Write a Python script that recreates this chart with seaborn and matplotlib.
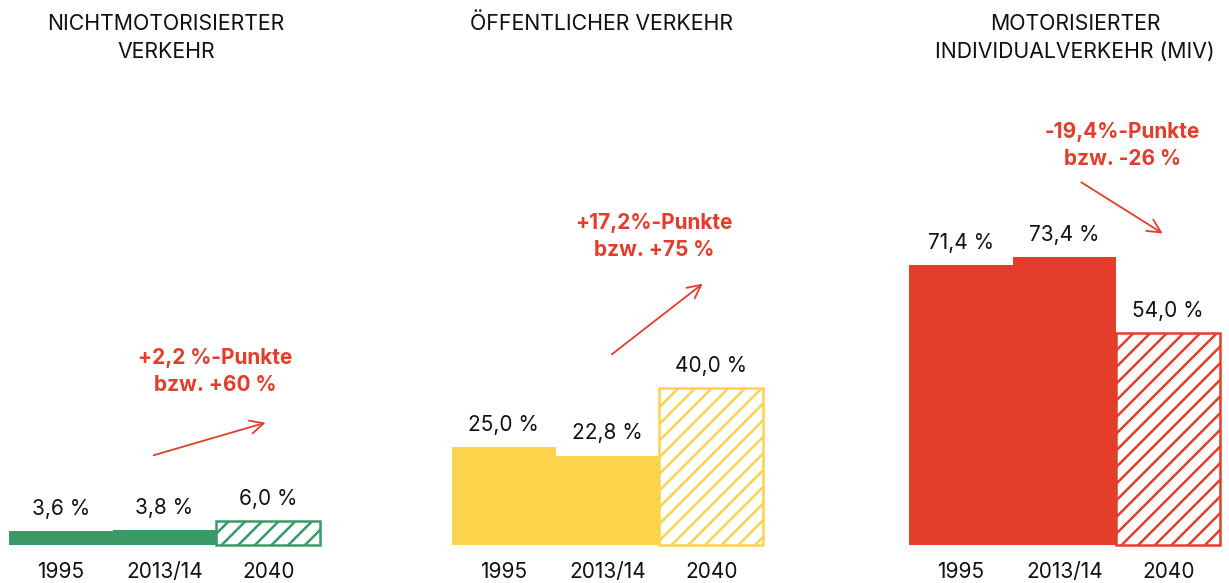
import numpy as np
import pandas as pd
import seaborn as sns
import matplotlib.pyplot as plt

# Data
years = ["1995", "2013/14", "2040"]
titles = ["NICHTMOTORISIERTER\nVERKEHR", "ÖFFENTLICHER VERKEHR", "MOTORISIERTER\nINDIVIDUALVERKEHR (MIV)"]
nmv_values = [3.6, 3.8, 6.0]
oev_values = [25.0, 22.8, 40.0]
miv_values = [71.4, 73.4, 54.0]
changes = ["+2,2 %-Punkte\nbzw. +60 %", "+17,2%-Punkte\nbzw. +75 %", "-19,4%-Punkte\nbzw. -26 %"]
colors = ["#3a9a67", "#fdd34b", "#e43d2b"]
accent = "#e43d2b"

sns.set_theme(style="white")
plt.rcParams["font.family"] = ["Inter", "DejaVu Sans"]
plt.rcParams["hatch.linewidth"] = 1.8

W, H = 1229, 583
fig = plt.figure(figsize=(W / 100, H / 100), dpi=100)

# Panel placement in pixels (left edge, width)
lefts = [9, 452, 909]
panel_w = 311
base_px = 545
px_per_unit = 3.92
ymax = 130

# Where the change annotations sit (data coords): text centre, arrow start, arrow end
ann_text = [(1.49, 44.2), (1.45, 78.6), (1.56, 101.9)]
ann_from = [(0.87, 22.7), (1.02, 48.2), (1.14, 92.9)]
ann_to = [(2.00, 31.4), (1.94, 67.1), (1.97, 79.1)]
title_x = [166, 602, 1075]
title_y = [38, 24, 38]

all_values = [nmv_values, oev_values, miv_values]

for i, vals in enumerate(all_values):
    ax = fig.add_axes([
        lefts[i] / W,
        (H - base_px) / H,
        panel_w / W,
        ymax * px_per_unit / H,
    ])
    df = pd.DataFrame({"year": years, "share": vals})
    sns.barplot(
        data=df,
        x="year",
        y="share",
        color=colors[i],
        width=1.0,
        saturation=1,
        linewidth=0,
        ax=ax,
    )

    # projection bar gets the hatch
    proj = ax.patches[2]
    proj.set_facecolor("white")
    proj.set_edgecolor(colors[i])
    proj.set_hatch("//")
    proj.set_linewidth(1.8)
    for p in ax.patches:
        p.set_clip_on(False)

    # value labels above the bars
    for j, v in enumerate(vals):
        ax.annotate(
            f"{v:.1f} %".replace(".", ","),
            xy=(j, v),
            xytext=(0, 16),
            textcoords="offset points",
            ha="center",
            va="center",
            fontsize=15,
            color="#111111",
        )

    # change annotation and arrow
    ax.text(
        ann_text[i][0], ann_text[i][1], changes[i],
        ha="center", va="center",
        fontsize=15, fontweight="bold", color=accent,
        linespacing=1.45,
    )
    ax.annotate(
        "",
        xy=ann_to[i],
        xytext=ann_from[i],
        arrowprops=dict(arrowstyle="->,head_length=0.8,head_width=0.4", color=accent, lw=1.3),
        annotation_clip=False,
    )

    ax.set_xlim(-0.5, 2.5)
    ax.set_ylim(0, ymax)
    ax.set_xlabel("")
    ax.set_ylabel("")
    ax.set_yticks([])
    ax.tick_params(axis="x", length=0, pad=12, labelsize=15, labelcolor="#111111")
    sns.despine(ax=ax, left=True, bottom=True)
    ax.patch.set_alpha(0)

    # panel title
    fig.text(
        title_x[i] / W,
        1 - title_y[i] / H,
        titles[i],
        ha="center", va="center",
        fontsize=15.3, color="#111111",
        linespacing=1.5,
    )

fig.savefig("out.png", dpi=100)
